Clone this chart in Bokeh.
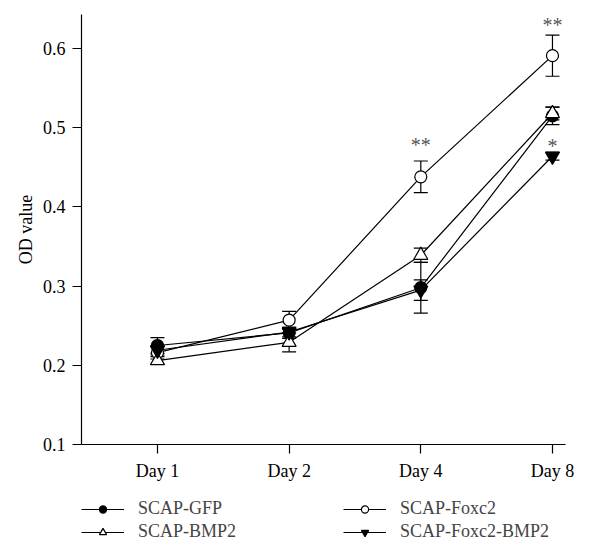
from bokeh.plotting import figure
from bokeh.layouts import column
from bokeh.models import (ColumnDataSource, Range1d, FixedTicker, Whisker, TeeHead,
                          Legend, LegendItem, LabelSet)
from bokeh.embed import file_html
from bokeh.resources import INLINE

days = ["Day 1", "Day 2", "Day 4", "Day 8"]
x_pos = [1, 2, 3, 4]

gfp = [0.225, 0.241, 0.298, 0.515]
gfp_err = [0.010, 0.007, 0.032, 0.011]
foxc2 = [0.216, 0.257, 0.438, 0.591]
foxc2_err = [0.008, 0.011, 0.020, 0.026]
bmp2 = [0.206, 0.229, 0.339, 0.518]
bmp2_err = [0.005, 0.012, 0.009, 0.008]
fb = [0.219, 0.242, 0.295, 0.464]
fb_err = [0.006, 0.006, 0.013, 0.005]

sig_x = [3, 4, 4]
sig_y = [0.478, 0.630, 0.477]
sig_text = ["**", "**", "*"]

FONT = "Liberation Serif"

p = figure(width=608, height=490, output_backend="svg", toolbar_location=None,
           x_range=Range1d(0.423, 4.099), y_range=Range1d(0.1, 0.643),
           min_border_left=81, min_border_right=43, min_border_top=14,
           min_border_bottom=46)
p.outline_line_color = None
p.grid.grid_line_color = None

p.xaxis.ticker = FixedTicker(ticks=x_pos)
p.xaxis.major_label_overrides = {x: d for x, d in zip(x_pos, days)}
p.yaxis.ticker = FixedTicker(ticks=[0.1, 0.2, 0.3, 0.4, 0.5, 0.6])
p.yaxis.axis_label = "OD value"
for ax in (p.xaxis, p.yaxis):
    ax.axis_line_color = "black"
    ax.axis_line_width = 1.2
    ax.major_tick_line_color = "black"
    ax.major_tick_line_width = 1.2
    ax.major_tick_in = 0
    ax.major_tick_out = 9
    ax.minor_tick_line_color = None
    ax.major_label_text_font = FONT
    ax.major_label_text_font_size = "18px"
    ax.major_label_text_color = "black"
    ax.axis_label_text_font = FONT
    ax.axis_label_text_font_size = "18px"
    ax.axis_label_text_font_style = "normal"
    ax.axis_label_text_color = "black"
p.xaxis.major_label_standoff = 7
p.yaxis.major_label_standoff = 7
p.yaxis.axis_label_standoff = 4

series = [
    ("SCAP-GFP", gfp, gfp_err, "circle", "black"),
    ("SCAP-Foxc2", foxc2, foxc2_err, "circle", "white"),
    ("SCAP-BMP2", bmp2, bmp2_err, "triangle", "white"),
    ("SCAP-Foxc2-BMP2", fb, fb_err, "inverted_triangle", "black"),
]

# legend strip: its frame is aligned with the main plot's frame in the column
lf = figure(width=608, height=54, output_backend="svg", toolbar_location=None,
            x_axis_type=None, y_axis_type=None, min_border=0,
            x_range=Range1d(-3, -2), y_range=Range1d(-3, -2))
lf.outline_line_color = None
lf.grid.grid_line_color = None

items = {}
for name, vals, errs, marker, fill in series:
    src = ColumnDataSource(dict(x=x_pos, y=vals,
                                lo=[v - e for v, e in zip(vals, errs)],
                                hi=[v + e for v, e in zip(vals, errs)]))
    p.line("x", "y", source=src, line_color="black", line_width=1.2)
    w = Whisker(source=src, base="x", lower="lo", upper="hi", line_color="black",
                line_width=1.2,
                upper_head=TeeHead(size=14, line_color="black", line_width=1.2),
                lower_head=TeeHead(size=14, line_color="black", line_width=1.2))
    p.add_layout(w)
    size = 12 if marker == "circle" else 14
    p.scatter("x", "y", source=src, marker=marker, size=size,
              fill_color=fill, line_color="black", line_width=1.2)
    # legend proxies: same data, outside the strip's (empty) view
    ln = lf.line("x", "y", source=src, line_color="black", line_width=1.2)
    sc = lf.scatter("x", "y", source=src, marker=marker,
                    size=10 if marker == "circle" else 13,
                    fill_color=fill, line_color="black", line_width=1.2)
    items[name] = [ln, sc]

sig_src = ColumnDataSource(dict(x=sig_x, y=sig_y, t=sig_text))
p.add_layout(LabelSet(x="x", y="y", text="t", source=sig_src, text_align="center",
                      text_baseline="middle", text_font=FONT, text_font_size="20px",
                      text_color="#555555"))

order = ["SCAP-GFP", "SCAP-Foxc2", "SCAP-BMP2", "SCAP-Foxc2-BMP2"]
legend = Legend(items=[LegendItem(label=n, renderers=items[n]) for n in order],
                location=(0, 2), ncols=2, orientation="horizontal")
legend.border_line_color = None
legend.background_fill_alpha = 0
legend.padding = 0
legend.margin = 0
legend.spacing = 2
legend.glyph_width = 43
legend.glyph_height = 18
legend.label_height = 18
legend.label_width = 203
legend.label_standoff = 14
legend.label_text_font = FONT
legend.label_text_font_size = "18px"
legend.label_text_baseline = "middle"
lf.add_layout(legend, "center")

layout = column(p, lf, spacing=0)
open("out.html", "w").write(file_html(layout, INLINE))
